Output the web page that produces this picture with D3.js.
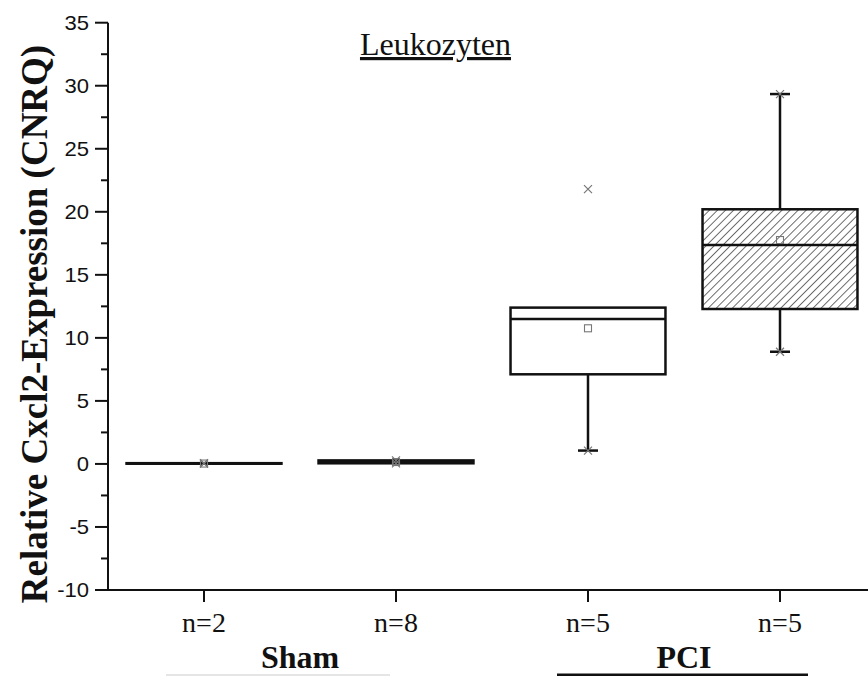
<!DOCTYPE html>
<html>
<head>
<meta charset="utf-8">
<script src="https://cdn.jsdelivr.net/npm/d3@7/dist/d3.min.js"></script>
<style>
  html, body { margin: 0; padding: 0; background: #fff; }
  svg { display: block; }
</style>
</head>
<body>
<svg id="chart" width="868" height="676"></svg>
<script>
// Box plot of relative Cxcl2 expression in leukocytes, Sham vs. PCI
const groupIds    = ["sham-a", "sham-b", "pci-a", "pci-b"];
const tickLabels  = ["n=2", "n=8", "n=5", "n=5"];
const hatched     = [false, false, false, true];
const whiskerLow  = [0.02, 0.05, 1.06, 8.9];
const q1          = [0.02, 0.05, 7.11, 12.29];
const median      = [0.03, 0.15, 11.5, 17.37];
const q3          = [0.06, 0.28, 12.4, 20.2];
const whiskerHigh = [0.06, 0.28, 12.4, 29.34];
const means       = [0.03, 0.15, 10.76, 17.76];
const minMarks    = [0.02, 0.05, 1.06, 8.9];
const maxMarks    = [0.06, 0.28, 21.8, 29.34];
const groupNames  = ["Sham", "PCI"];
const groupMembers = [["sham-a", "sham-b"], ["pci-a", "pci-b"]];
const yTicks      = [-10, -5, 0, 5, 10, 15, 20, 25, 30, 35];

const svg = d3.select("#chart");
const axisX = 108, axisRight = 876, axisY = 590, axisTop = 22.7;

const x = d3.scaleBand().domain(groupIds).range([axisX, axisRight])
  .paddingInner(0.193).paddingOuter(0.0965);
const y = d3.scaleLinear().domain([-10, 35]).range([axisY, axisTop]);

const data = groupIds.map((id, i) => ({
  id, label: tickLabels[i], hatched: hatched[i],
  lo: whiskerLow[i], q1: q1[i], med: median[i], q3: q3[i], hi: whiskerHigh[i],
  mean: means[i], minM: minMarks[i], maxM: maxMarks[i]
}));

// diagonal hatch fill
const defs = svg.append("defs");
const pat = defs.append("pattern").attr("id", "hatch")
  .attr("patternUnits", "userSpaceOnUse").attr("width", 5.7).attr("height", 5.7)
  .attr("patternTransform", "rotate(45)");
pat.append("rect").attr("width", 5.7).attr("height", 5.7).attr("fill", "#fff");
pat.append("line").attr("x1", 0).attr("y1", 0).attr("x2", 0).attr("y2", 5.7)
  .attr("stroke", "#222").attr("stroke-width", 1.3);

const ink = "#111";
const boxes = svg.append("g");
data.forEach(d => {
  const cx = x(d.id) + x.bandwidth() / 2;
  const g = boxes.append("g");
  // whiskers
  if (d.lo < d.q1) {
    g.append("line").attr("x1", cx).attr("x2", cx).attr("y1", y(d.q1)).attr("y2", y(d.lo))
      .attr("stroke", ink).attr("stroke-width", 2.5);
    g.append("line").attr("x1", cx - 10).attr("x2", cx + 10).attr("y1", y(d.lo)).attr("y2", y(d.lo))
      .attr("stroke", ink).attr("stroke-width", 2.5);
  }
  if (d.hi > d.q3) {
    g.append("line").attr("x1", cx).attr("x2", cx).attr("y1", y(d.q3)).attr("y2", y(d.hi))
      .attr("stroke", ink).attr("stroke-width", 2.5);
    g.append("line").attr("x1", cx - 10).attr("x2", cx + 10).attr("y1", y(d.hi)).attr("y2", y(d.hi))
      .attr("stroke", ink).attr("stroke-width", 2.5);
  }
  // box
  g.append("rect").attr("x", x(d.id)).attr("width", x.bandwidth())
    .attr("y", y(d.q3)).attr("height", Math.max(0.5, y(d.q1) - y(d.q3)))
    .attr("fill", d.hatched ? "url(#hatch)" : "#fff")
    .attr("stroke", ink).attr("stroke-width", 2.5);
  // median
  g.append("line").attr("x1", x(d.id)).attr("x2", x(d.id) + x.bandwidth())
    .attr("y1", y(d.med)).attr("y2", y(d.med)).attr("stroke", ink).attr("stroke-width", 2.5);
  // mean marker
  g.append("rect").attr("x", cx - 3.5).attr("y", y(d.mean) - 3.5).attr("width", 7).attr("height", 7)
    .attr("fill", "none").attr("stroke", "#777").attr("stroke-width", 1.1);
  // min / max cross markers
  [d.minM, d.maxM].forEach(v => {
    const py = y(v), s = 4;
    g.append("path").attr("d", `M${cx - s},${py - s}L${cx + s},${py + s}M${cx - s},${py + s}L${cx + s},${py - s}`)
      .attr("stroke", "#777").attr("stroke-width", 1.2).attr("fill", "none");
  });
});

// y axis
const yAxis = svg.append("g");
yAxis.append("line").attr("x1", axisX).attr("x2", axisX).attr("y1", axisTop).attr("y2", axisY)
  .attr("stroke", ink).attr("stroke-width", 2);
const minorTicks = d3.range(-7.5, 35, 5);
yAxis.selectAll(".minor").data(minorTicks).join("line")
  .attr("x1", axisX - 7).attr("x2", axisX).attr("y1", d => y(d)).attr("y2", d => y(d))
  .attr("stroke", ink).attr("stroke-width", 2);
yAxis.selectAll(".major").data(yTicks).join("line")
  .attr("x1", axisX - 13).attr("x2", axisX).attr("y1", d => y(d)).attr("y2", d => y(d))
  .attr("stroke", ink).attr("stroke-width", 2);
yAxis.selectAll("text").data(yTicks).join("text")
  .attr("transform", d => `translate(89,${y(d)}) scale(1.05,1)`)
  .attr("text-anchor", "end").attr("dominant-baseline", "central")
  .attr("font-family", "Liberation Sans, Arial, sans-serif").attr("font-size", 21)
  .attr("fill", ink).text(d => d);

// x axis
const xAxis = svg.append("g");
xAxis.append("line").attr("x1", axisX - 1).attr("x2", 868).attr("y1", axisY).attr("y2", axisY)
  .attr("stroke", ink).attr("stroke-width", 2);
xAxis.selectAll(".tick").data(data).join("line")
  .attr("x1", d => x(d.id) + x.bandwidth() / 2).attr("x2", d => x(d.id) + x.bandwidth() / 2)
  .attr("y1", axisY).attr("y2", axisY + 12).attr("stroke", ink).attr("stroke-width", 2);
xAxis.selectAll("text").data(data).join("text")
  .attr("transform", d => `translate(${x(d.id) + x.bandwidth() / 2},632)`)
  .attr("text-anchor", "middle")
  .attr("font-family", "Liberation Serif, 'Times New Roman', serif").attr("font-size", 28)
  .attr("fill", ink).text(d => d.label);

// group labels
groupNames.forEach((name, i) => {
  const centers = groupMembers[i].map(id => x(id) + x.bandwidth() / 2);
  const mid = d3.mean(centers);
  svg.append("text").attr("transform", `translate(${mid},668)`)
    .attr("text-anchor", "middle")
    .attr("font-family", "Liberation Serif, 'Times New Roman', serif")
    .attr("font-weight", "bold").attr("font-size", 32).attr("fill", ink).text(name);
});
// rules beneath group labels
const shamMid = d3.mean(groupMembers[0].map(id => x(id) + x.bandwidth() / 2));
const pciMid = d3.mean(groupMembers[1].map(id => x(id) + x.bandwidth() / 2));
svg.append("line").attr("x1", shamMid - 134).attr("x2", shamMid + 90).attr("y1", 675).attr("y2", 675)
  .attr("stroke", "#ccc").attr("stroke-width", 1.2);
svg.append("line").attr("x1", pciMid - 127).attr("x2", pciMid + 124).attr("y1", 675).attr("y2", 675)
  .attr("stroke", ink).attr("stroke-width", 3);

// panel title
svg.append("text").attr("x", 435.5).attr("y", 55).attr("text-anchor", "middle")
  .attr("font-family", "Liberation Serif, 'Times New Roman', serif").attr("font-size", 32)
  .attr("text-decoration", "underline").attr("fill", ink).text("Leukozyten");

// y axis title
svg.append("text").attr("transform", "translate(47,324) rotate(-90)")
  .attr("text-anchor", "middle")
  .attr("font-family", "Liberation Serif, 'Times New Roman', serif")
  .attr("font-weight", "bold").attr("font-size", 37).attr("fill", ink)
  .text("Relative Cxcl2-Expression (CNRQ)");
</script>
</body>
</html>
